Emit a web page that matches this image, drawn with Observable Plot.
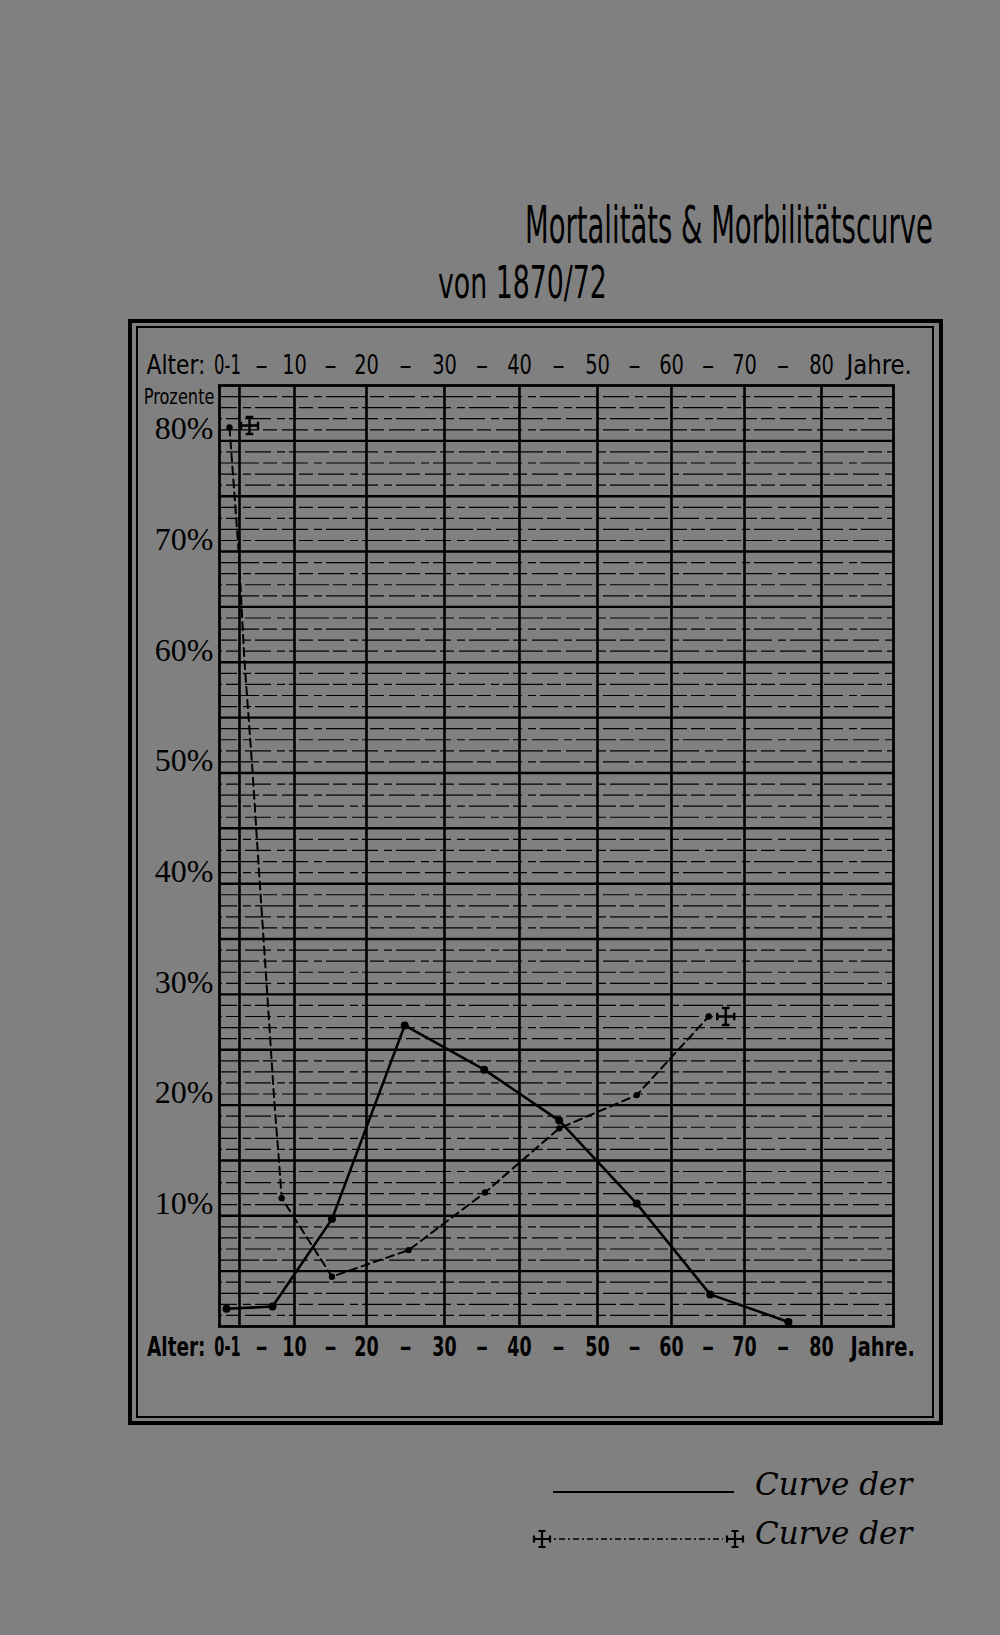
<!DOCTYPE html>
<html>
<head>
<meta charset="utf-8">
<script src="https://cdn.jsdelivr.net/npm/d3@7"></script>
<script src="https://cdn.jsdelivr.net/npm/@observablehq/plot@0.6"></script>
<style>
  html, body { margin: 0; padding: 0; background: #808080; }
  #page { position: relative; width: 1000px; height: 1635px; overflow: hidden; background: #808080; }
  .abs { position: absolute; box-sizing: border-box; }
  #chart { position: absolute; left: 0; top: 0; }
</style>
</head>
<body>
<div id="page">
  <svg class="abs" style="left:0;top:0" width="1000" height="318">
    <text id="t1" data-x="525" data-y="243" data-w="408" font-family="'DejaVu Sans Condensed',sans-serif" font-size="52" fill="#000">Mortalitäts &amp; Morbilitätscurve</text>
    <text id="t2" data-x="438" data-y="298" data-w="169" font-family="'DejaVu Sans Condensed',sans-serif" font-size="44" fill="#000">von 1870/72</text>
  </svg>
  <div class="abs" style="left:128px;top:319px;width:815px;height:1106px;border:4px solid #000;"></div>
  <div class="abs" style="left:136px;top:326px;width:798px;height:1092px;border:2px solid #000;"></div>
  <div id="chart"></div>
  <svg class="abs" style="left:520px;top:1460px" width="420" height="110">
    <line x1="33" x2="214" y1="32" y2="32" stroke="#000" stroke-width="2.2"/>
    <text x="235" y="35" font-family="'DejaVu Serif',serif" font-style="italic" font-size="31" fill="#000">Curve der</text>
    <g fill="none" stroke="#000" stroke-width="2.2">
      <path transform="translate(22,79)" d="M-8,0H8M0,-8V8M-8,-3.5V3.5M8,-3.5V3.5M-3.5,-8H3.5M-3.5,8H3.5"/>
      <path transform="translate(215,79)" d="M-8,0H8M0,-8V8M-8,-3.5V3.5M8,-3.5V3.5M-3.5,-8H3.5M-3.5,8H3.5"/>
    </g>
    <line x1="34" x2="203" y1="79" y2="79" stroke="#000" stroke-width="1.6" stroke-dasharray="2,3,6,3"/>
    <text x="235" y="84" font-family="'DejaVu Serif',serif" font-style="italic" font-size="31" fill="#000">Curve der</text>
  </svg>
</div>
<script>
// ---- data ----
const ageBreaks = [0, 1, 10, 20, 30, 40, 50, 60, 70, 80, 90];
const headerLabels = ["0-1", "10", "20", "30", "40", "50", "60", "70", "80"];
const headerLabelAges = [0.4, 10, 20, 30, 40, 50, 60, 70, 80];
const dashAges = [4.6, 15, 25, 35, 45, 55, 65, 75];
const pctLabels = [10, 20, 30, 40, 50, 60, 70, 80];
const pctMajor = [5, 10, 15, 20, 25, 30, 35, 40, 45, 50, 55, 60, 65, 70, 75, 80];
const pctMinor = d3.range(1, 85).filter(v => v % 5 !== 0);

// Mortalität (ausgezogene Curve)
const mortalityAges   = [0.35, 6.4, 15.2, 24.9, 35.3, 45.1, 55.3, 65.3, 75.7];
const mortalityValues = [1.6, 1.8, 9.7, 27.2, 23.2, 18.6, 11.1, 2.9, 0.4];

// Morbidität (gestrichelte Curve)
const morbidityAges   = [0.5, 0.95, 1.8, 3.1, 4.3, 5.5, 6.7, 7.4, 7.9, 15.2, 25.4, 35.4, 45.1, 55.3, 65.1];
const morbidityValues = [81.2, 70.2, 60.2, 50.4, 40.2, 30.4, 20.3, 15.4, 11.6, 4.5, 6.9, 12.1, 17.9, 20.9, 28.0];
const morbidityDots   = [true, false, false, false, false, false, false, false, true, true, true, true, true, true, true];

// ---- tables ----
const mortality = mortalityAges.map((a, i) => ({age: a, pct: mortalityValues[i]}));
const morbidity = morbidityAges.map((a, i) => ({age: a, pct: morbidityValues[i], dot: morbidityDots[i]}));
const header = headerLabels.map((t, i) => ({label: t, age: headerLabelAges[i]}));
const morbStart = [morbidity[0]];
const morbEnd = [morbidity[morbidity.length - 1]];

// ---- layout / style config ----
const columnEdgesPx = [219, 239, 294, 366, 444, 519, 597, 671, 744, 821, 893];
const narrow = "'DejaVu Sans Condensed','DejaVu Sans',sans-serif";
const serif = "'Liberation Serif','DejaVu Serif',serif";
const ink = "#000";
const hdr = {fontSize: 27, fontFamily: narrow, fill: ink, lineAnchor: "middle"};
const ftr = {fontSize: 27, fontFamily: narrow, fontWeight: "bold", fill: ink, lineAnchor: "middle"};

// cross potent symbol used as the morbidity marker
const crossPotent = {
  draw(context, size) {
    const s = Math.sqrt(size / Math.PI);
    const b = s * 0.45;
    context.moveTo(-s, 0); context.lineTo(s, 0);
    context.moveTo(0, -s); context.lineTo(0, s);
    context.moveTo(-s, -b); context.lineTo(-s, b);
    context.moveTo(s, -b); context.lineTo(s, b);
    context.moveTo(-b, -s); context.lineTo(b, -s);
    context.moveTo(-b, s); context.lineTo(b, s);
  }
};

const minorStyle = {stroke: ink, strokeWidth: 1.2, strokeDasharray: "40,4,14,5,26,6,8,4"};

const chart = Plot.plot({
  width: 1000,
  height: 1635,
  marginLeft: 219,
  marginRight: 107,
  marginTop: 385,
  marginBottom: 309,
  style: {background: "transparent", overflow: "visible"},
  x: {type: "linear", domain: ageBreaks, range: columnEdgesPx, axis: null},
  y: {domain: [0, 85], axis: null},
  marks: [
    Plot.ruleY(pctMinor.filter(v => v % 3 === 0), {...minorStyle, strokeDashoffset: 0}),
    Plot.ruleY(pctMinor.filter(v => v % 3 === 1), {...minorStyle, strokeDashoffset: 37}),
    Plot.ruleY(pctMinor.filter(v => v % 3 === 2), {...minorStyle, strokeDashoffset: 71}),
    Plot.ruleY(pctMajor, {stroke: ink, strokeWidth: 2.4}),
    Plot.ruleX(ageBreaks.slice(1, -1), {stroke: ink, strokeWidth: 2.6}),
    Plot.frame({stroke: ink, strokeWidth: 2.8}),
    // morbidity
    Plot.line(morbidity, {x: "age", y: "pct", stroke: ink, strokeWidth: 2, strokeDasharray: "8,5"}),
    Plot.dot(morbidity.filter(d => d.dot), {x: "age", y: "pct", r: 3.2, fill: ink}),
    Plot.dot(morbStart, {x: "age", y: "pct", symbol: crossPotent, r: 8.5, dx: 20, dy: -2, stroke: ink, strokeWidth: 2.4, fill: "none"}),
    Plot.dot(morbEnd, {x: "age", y: "pct", symbol: crossPotent, r: 8.5, dx: 17, stroke: ink, strokeWidth: 2.4, fill: "none"}),
    // mortality
    Plot.line(mortality, {x: "age", y: "pct", stroke: ink, strokeWidth: 2.6}),
    Plot.dot(mortality, {x: "age", y: "pct", r: 4, fill: ink}),
    // header labels
    Plot.text(["Alter:"], {...hdr, text: d => d, frameAnchor: "top-left", dx: -14, dy: -20, textAnchor: "end"}),
    Plot.text(header, {...hdr, x: "age", text: "label", frameAnchor: "top", dy: -20}),
    Plot.text(dashAges, {...hdr, x: d => d, text: () => "–", frameAnchor: "top", dy: -20}),
    Plot.text(["Jahre."], {...hdr, x: () => 80, text: d => d, frameAnchor: "top", dx: 25, dy: -20, textAnchor: "start"}),
    // footer labels
    Plot.text(["Alter:"], {...ftr, text: d => d, frameAnchor: "bottom-left", dx: -14, dy: 21, textAnchor: "end"}),
    Plot.text(header, {...ftr, x: "age", text: "label", frameAnchor: "bottom", dy: 21}),
    Plot.text(dashAges, {...ftr, x: d => d, text: () => "–", frameAnchor: "bottom", dy: 21}),
    Plot.text(["Jahre."], {...ftr, x: () => 80, text: d => d, frameAnchor: "bottom", dx: 29, dy: 21, textAnchor: "start"}),
    // y labels
    Plot.text(["Prozente"], {text: d => d, frameAnchor: "top-left", dx: -5, dy: 11, textAnchor: "end", lineAnchor: "middle", fontSize: 22, fontFamily: narrow, fill: ink}),
    Plot.text(pctLabels, {y: d => d, text: d => d + "%", frameAnchor: "left", dx: -6, dy: -12, textAnchor: "end", fontSize: 32, fontFamily: serif, fill: ink})
  ]
});
document.getElementById("chart").appendChild(chart);

// horizontal condensing of the narrow lettering (the print uses a very narrow face)
const squeezeHeader = {"Alter:": 0.9, "0-1": 0.68, "Jahre.": 0.94, num: 0.8};
const squeezeFooter = {"Alter:": 0.76, "0-1": 0.6, "Jahre.": 0.8, num: 0.72};
d3.select(chart).selectAll("text").each(function () {
  const g = this.parentNode;
  const txt = this.textContent;
  const fs = g.getAttribute("font-size");
  const bold = g.getAttribute("font-weight") === "bold";
  let sx = null;
  if (txt === "Prozente") sx = 0.82;
  else if (fs === "27") {
    const set = bold ? squeezeFooter : squeezeHeader;
    const key = /^\d+$/.test(txt) ? "num" : txt;
    if (key in set) sx = set[key];
  }
  if (sx != null) {
    const t = this.getAttribute("transform") || "";
    this.setAttribute("transform", `${t} scale(${sx},1)`);
  }
});

// fit the title lines to their printed width
for (const id of ["t1", "t2"]) {
  const el = document.getElementById(id);
  const w = el.getComputedTextLength();
  const sx = +el.dataset.w / w;
  el.setAttribute("transform", `translate(${el.dataset.x},${el.dataset.y}) scale(${sx},1)`);
}
</script>
</body>
</html>
